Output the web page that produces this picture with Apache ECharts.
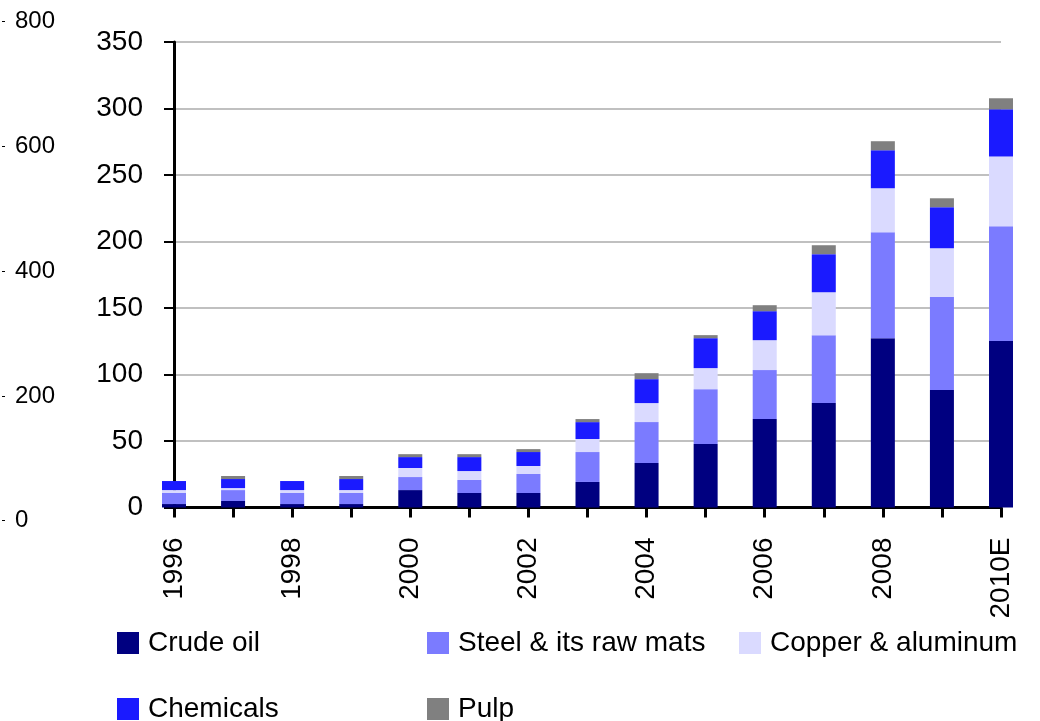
<!DOCTYPE html>
<html>
<head>
<meta charset="utf-8">
<script src="https://cdn.jsdelivr.net/npm/echarts@6/dist/echarts.min.js"></script>
<style>
  html, body { margin: 0; padding: 0; background: #fff; }
  #chart { width: 1040px; height: 721px; }
</style>
</head>
<body>
<div id="chart"></div>
<script>
// data (segment sizes, stacked)
var years = ["1996", "1997", "1998", "1999", "2000", "2001", "2002", "2003", "2004", "2005", "2006", "2007", "2008", "2009", "2010E"];
var crudeOil  = [2.6, 4.9, 2.6, 2.6, 13.1, 10.9, 10.9, 19.2, 33.4, 47.7, 66.5, 78.5, 127.3, 88.3, 125.1];
var steel     = [8.3, 8.2, 8.3, 8.3, 9.8, 9.8, 14.3, 22.5, 30.8, 41.3, 36.8, 51.1, 79.7, 69.9, 86.4];
var copper    = [2.2, 1.5, 2.2, 2.2, 6.8, 6.7, 6.0, 9.8, 14.3, 15.8, 22.5, 32.3, 33.0, 36.8, 52.5];
var chemicals = [6.8, 6.8, 6.8, 8.3, 8.2, 10.5, 10.5, 12.7, 18.0, 22.5, 21.8, 28.6, 28.6, 30.8, 35.4];
var pulp      = [0, 2.3, 0, 2.3, 2.2, 2.2, 2.2, 2.3, 4.5, 2.3, 4.5, 6.7, 6.8, 6.7, 8.3];
var leftTicks = [0, 800]; // the faint axis on the far left

var chart = echarts.init(document.getElementById("chart"));
var font = "'Liberation Sans', Arial, sans-serif";

function bar(name, data, color) {
  return {
    name: name,
    type: "bar",
    stack: "total",
    barWidth: 24,
    clip: true,
    xAxisIndex: 0,
    yAxisIndex: 0,
    itemStyle: { color: color },
    data: data
  };
}

function legendAt(name, left, top) {
  return {
    data: [name],
    left: left,
    top: top,
    padding: 0,
    icon: "rect",
    itemWidth: 22,
    itemHeight: 22,
    selectedMode: false,
    textStyle: {
      fontFamily: font,
      fontSize: 28,
      color: "#000",
      lineHeight: 34,
      padding: [0, 0, 0, 4]
    }
  };
}

var option = {
  backgroundColor: "#fff",
  animation: false,
  textStyle: { fontFamily: font },
  grid: [
    { left: 174, right: 39, top: 42, bottom: 213.5 },
    { left: 0, width: 2, top: 21.5, bottom: 200.3 }
  ],
  legend: [
    legendAt("Crude oil", 117, 626),
    legendAt("Steel & its raw mats", 427, 626),
    legendAt("Copper & aluminum", 739, 626),
    legendAt("Chemicals", 117, 692),
    legendAt("Pulp", 427, 692)
  ],
  xAxis: [
    {
      type: "category",
      gridIndex: 0,
      data: years,
      boundaryGap: false,
      axisLine: { lineStyle: { color: "#000", width: 3 } },
      axisTick: { alignWithLabel: true, interval: 0, length: 10, lineStyle: { color: "#000", width: 3 } },
      axisLabel: {
        interval: 1,
        rotate: 90,
        margin: 30,
        color: "#000",
        fontSize: 28,
        fontFamily: font
      },
      splitLine: { show: false }
    },
    {
      type: "category",
      gridIndex: 1,
      show: false,
      data: ["a"]
    }
  ],
  yAxis: [
    {
      type: "value",
      gridIndex: 0,
      min: 0,
      max: 350,
      interval: 50,
      axisLine: { show: true, lineStyle: { color: "#000", width: 3 } },
      axisTick: { show: true, length: 10, lineStyle: { color: "#000", width: 2 } },
      axisLabel: { margin: 31, color: "#000", fontSize: 28, fontFamily: font },
      splitLine: { show: true, lineStyle: { color: "#c0c0c0", width: 2 } }
    },
    {
      type: "value",
      gridIndex: 1,
      position: "right",
      min: leftTicks[0],
      max: leftTicks[1],
      interval: 200,
      axisLine: { show: false },
      axisTick: { show: true, length: 3, lineStyle: { color: "#000", width: 1 } },
      axisLabel: { margin: 13, color: "#000", fontSize: 24, fontFamily: font },
      splitLine: { show: false }
    }
  ],
  series: [
    bar("Crude oil", crudeOil, "#000080"),
    bar("Steel & its raw mats", steel, "#7b7bff"),
    bar("Copper & aluminum", copper, "#dadaff"),
    bar("Chemicals", chemicals, "#1a1aff"),
    bar("Pulp", pulp, "#808080")
  ]
};

chart.setOption(option);
window.addEventListener("resize", function () {
  chart.resize();
});
</script>
</body>
</html>
